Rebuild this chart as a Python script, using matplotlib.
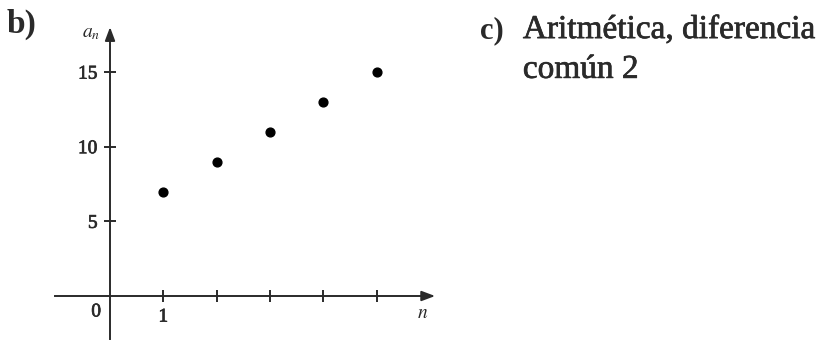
import matplotlib
matplotlib.use("Agg")
import matplotlib.pyplot as plt
import matplotlib.patheffects as pe

n_vals = [1, 2, 3, 4, 5]
a_vals = [7, 9, 11, 13, 15]
y_ticks = [5, 10, 15]
x_ticks = [1, 2, 3, 4, 5]
x_tick_labels = ["", "", "", "", ""]

plt.rcParams['font.family'] = ['Liberation Serif', 'DejaVu Serif']
plt.rcParams['mathtext.fontset'] = 'stix'

col = '#2a2a2a'
heavy = [pe.withStroke(linewidth=0.5, foreground=col)]

fig = plt.figure(figsize=(8.26, 3.40), dpi=100)
ax = fig.add_axes([0, 0, 1, 1])
ax.set_xlim(-2.064, 13.43)
ax.set_ylim(-2.947, 19.83)

for s in ['top', 'right']:
    ax.spines[s].set_visible(False)
ax.spines['left'].set_position(('data', 0))
ax.spines['bottom'].set_position(('data', 0))
ax.spines['left'].set_bounds(-2.9, 17.6)
ax.spines['bottom'].set_bounds(-1.03, 5.9)
for s in ['left', 'bottom']:
    ax.spines[s].set_color(col)
    ax.spines[s].set_linewidth(1.4)

ax.annotate('', xy=(6.15, 0), xytext=(5.8, 0),
            arrowprops=dict(arrowstyle='-|>,head_length=0.8,head_width=0.3', color=col, lw=1.4))
ax.annotate('', xy=(0, 18.2), xytext=(0, 17.0),
            arrowprops=dict(arrowstyle='-|>,head_length=0.8,head_width=0.3', color=col, lw=1.4))

ax.set_yticks(y_ticks)
ax.set_yticklabels([str(v) for v in y_ticks])
ax.set_xticks(x_ticks)
ax.set_xticklabels(x_tick_labels)
ax.tick_params(axis='both', direction='inout', length=8, width=1.4, color=col,
               labelsize=14, labelcolor=col)
ax.tick_params(axis='y', pad=5)
for lbl in ax.get_yticklabels():
    lbl.set_path_effects(heavy)

ax.scatter(n_vals, a_vals, s=40, color='black', zorder=5)

ax.text(-0.26, -1.07, '0', fontsize=14, color=col, ha='center', va='center', path_effects=heavy)
ax.text(1, -1.41, '1', fontsize=14, color=col, ha='center', va='center', path_effects=heavy)
ax.text(5.87, -1.14, r'$n$', fontsize=14, color=col, ha='center', va='center')
ax.text(-0.36, 17.6, r'$a_n$', fontsize=14, color=col, ha='center', va='center')

fig.text(0.008, 0.903, 'b)', fontsize=24, fontweight='bold', color=col, ha='left', va='baseline')
fig.text(0.581, 0.888, 'c)', fontsize=22, fontweight='bold', color=col, ha='left', va='baseline')
fig.text(0.633, 0.888, 'Aritmética, diferencia', fontsize=24, color=col, ha='left', va='baseline',
         path_effects=heavy)
fig.text(0.633, 0.771, 'común 2', fontsize=24, color=col, ha='left', va='baseline',
         path_effects=heavy)

fig.savefig('out.png', dpi=100)
